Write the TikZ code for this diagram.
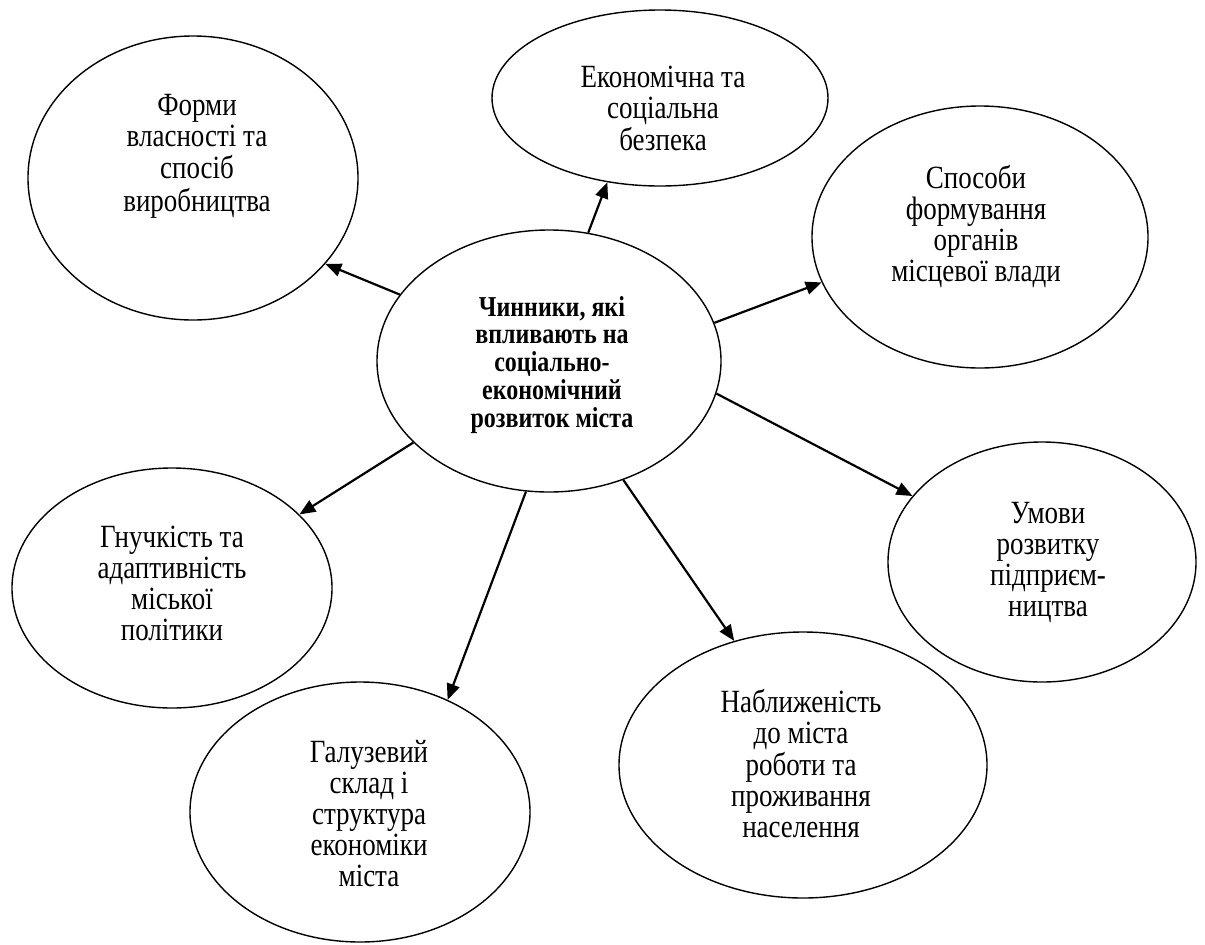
\documentclass[tikz,border=0pt]{standalone}
\usepackage{fontspec}
\usepackage{graphicx}
\setmainfont{Liberation Serif}
\usetikzlibrary{shapes.geometric,arrows.meta}
\newcommand\lbl[1]{\scalebox{1}[1.2]{\begin{tabular}{@{}c@{}}#1\end{tabular}}}

\begin{document}
\begin{tikzpicture}[x=0.5pt,y=-0.5pt,
    bubble/.style={draw,ellipse,line width=0.7pt,inner sep=0pt},
    txt/.style={inner sep=0pt,font=\fontsize{13.5}{12.9}\selectfont},
    arr/.style={line width=1.1pt,-{Triangle[length=8pt,width=6.5pt]}}]
  \useasboundingbox (0,0) rectangle (1205,944);
  % centre
  \node[bubble,minimum width=172pt,minimum height=131pt] (core) at (549,361) {};
  \node[inner sep=0pt,font=\fontsize{12}{11.25}\selectfont\bfseries] (core-t) at (552,366)
    {\lbl{Чинники, які\\впливають на\\соціально-\\економічний\\розвиток міста}};
  % factors
  \node[bubble,minimum width=165pt,minimum height=142pt] (forms) at (193,178) {};
  \node[txt] (forms-t) at (197,157) {\lbl{Форми\\власності та\\спосіб\\виробництва}};
  \node[bubble,minimum width=168pt,minimum height=88pt] (security) at (660,98) {};
  \node[txt] (security-t) at (663,113) {\lbl{Економічна та\\соціальна\\безпека}};
  \node[bubble,minimum width=168pt,minimum height=131pt] (authorities) at (980,237) {};
  \node[txt] (authorities-t) at (976,228) {\lbl{Способи\\формування\\органів\\місцевої влади}};
  \node[bubble,minimum width=154pt,minimum height=120pt] (enterprise) at (1042,562) {};
  \node[txt] (enterprise-t) at (1048,564) {\lbl{Умови\\розвитку\\підприєм-\\ництва}};
  \node[bubble,minimum width=184pt,minimum height=133pt] (proximity) at (803,765) {};
  \node[txt] (proximity-t) at (801,768) {\lbl{Наближеність\\до міста\\роботи та\\проживання\\населення}};
  \node[bubble,minimum width=160pt,minimum height=120pt] (flexibility) at (172,588) {};
  \node[txt] (flexibility-t) at (172,588) {\lbl{Гнучкість та\\адаптивність\\міської\\політики}};
  \node[bubble,minimum width=170pt,minimum height=130pt] (industry) at (360,812) {};
  \node[txt] (industry-t) at (369,818) {\lbl{Галузевий\\склад і\\структура\\економіки\\міста}};
  % arrows
  \foreach \a/\t/\b in {156/forms/-33, 73/security/238, 13/authorities/196,
      -11/enterprise/153, 211/flexibility/30, 260/industry/52, 302/proximity/119}
    \draw[arr] (core.\a) -- (\t.\b);
\end{tikzpicture}
\end{document}
